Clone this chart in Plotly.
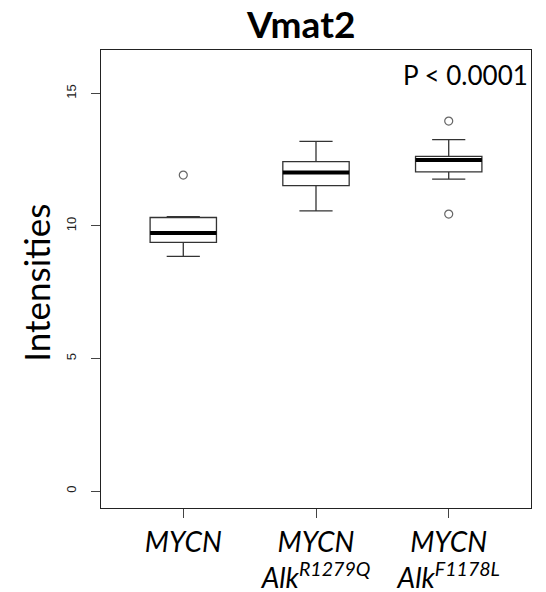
import plotly.graph_objects as go

# group labels and box statistics
groups = ["<i>MYCN</i>", "<i>MYCN<br>Alk<sup>R1279Q</sup></i>", "<i>MYCN<br>Alk<sup>F1178L</sup></i>"]
positions = [1, 2, 3]
q1 = [9.38, 11.52, 12.04]
medians = [9.74, 12.02, 12.49]
q3 = [10.32, 12.43, 12.63]
lower = [8.85, 10.57, 11.77]
upper = [10.35, 13.19, 13.26]

# outlier points
out_x = [1, 3, 3]
out_y = [11.92, 13.96, 10.45]

box_w = 0.5

fig = go.Figure()
for i in range(len(positions)):
    fig.add_trace(go.Box(x=[positions[i]], q1=[q1[i]], median=[medians[i]], q3=[q3[i]],
                         lowerfence=[lower[i]], upperfence=[upper[i]],
                         width=box_w, whiskerwidth=0.5, fillcolor="white",
                         line=dict(color="#333", width=1.3), boxpoints=False,
                         showlegend=False, hoverinfo="skip"))
    # thick median bar like R's boxplot
    fig.add_trace(go.Scatter(x=[positions[i] - box_w / 2, positions[i] + box_w / 2],
                             y=[medians[i], medians[i]], mode="lines",
                             line=dict(color="black", width=4), showlegend=False))

fig.add_trace(go.Scatter(x=out_x, y=out_y, mode="markers",
                         marker=dict(symbol="circle-open", size=8, color="#666", line=dict(width=1.2)),
                         showlegend=False))

# page body has an 8px margin, so the margins are shifted to compensate
fig.update_layout(
    width=546, height=592,
    margin=dict(l=93, r=23, t=42, b=92),
    paper_bgcolor="white", plot_bgcolor="white",
    title=dict(text="<b>Vmat2</b>", x=0.537, xanchor="center", y=0.972, yanchor="middle",
               font=dict(family="Lato", size=37, color="black")),
    font=dict(family="Lato", color="black"),
)
fig.update_xaxes(range=[0.38, 3.62], tickvals=positions, ticktext=groups, automargin=False,
                 ticks="outside", ticklen=9, tickcolor="#444", showline=True, mirror=True,
                 linecolor="#222", linewidth=1, showgrid=False, zeroline=False,
                 tickfont=dict(family="Lato", size=28, color="black"))
fig.update_yaxes(range=[-0.64, 16.64], tickvals=[0, 5, 10, 15], tickangle=-90, automargin=False,
                 ticks="outside", ticklen=9, tickcolor="#444", showline=True, mirror=True,
                 linecolor="#222", linewidth=1, showgrid=False, zeroline=False,
                 ticklabelstandoff=10,
                 tickfont=dict(family="Arial", size=13, color="#222"))

fig.add_annotation(text="Intensities", x=-0.151, y=0.492, xref="paper", yref="paper",
                   xanchor="center", yanchor="middle",
                   showarrow=False, textangle=-90, font=dict(family="Lato", size=35, color="black"))
fig.add_annotation(text="P < 0.0001", x=0.997, y=0.985, xref="paper", yref="paper",
                   xanchor="right", yanchor="top", showarrow=False,
                   font=dict(family="Lato", size=26, color="black"))

fig.write_html("out.html")
